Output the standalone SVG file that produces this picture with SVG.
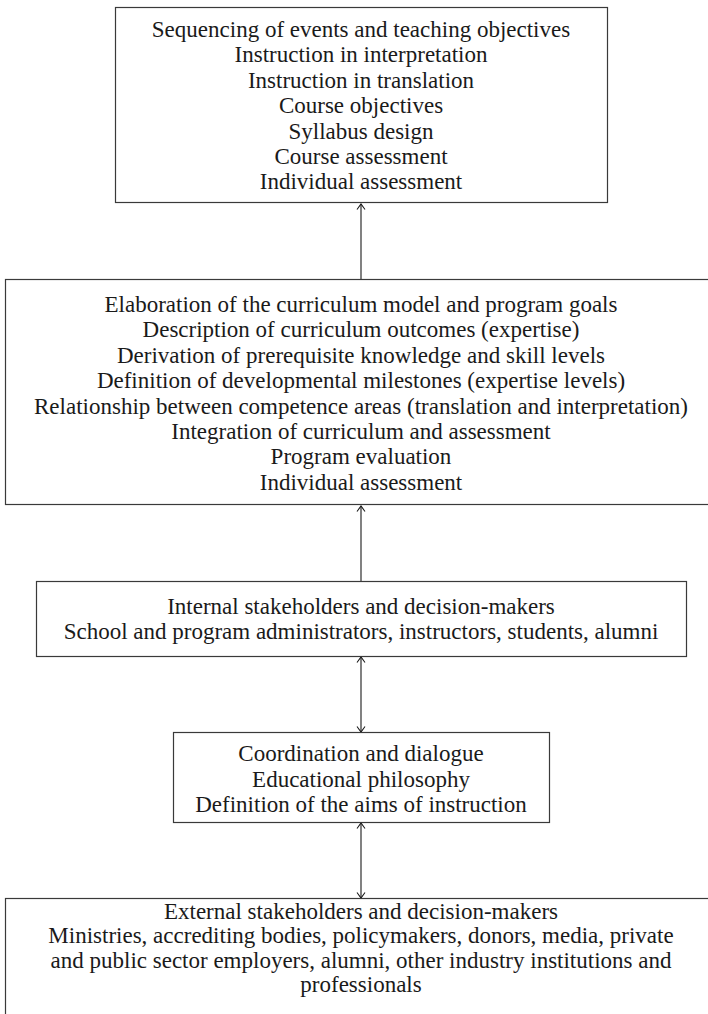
<svg xmlns="http://www.w3.org/2000/svg" width="708" height="1014" viewBox="0 0 708 1014">
<style>
.box{fill:#fff;stroke:#3a3a3a;stroke-width:1.2}
.t{font-family:"Liberation Serif","Times New Roman",serif;font-size:23px;fill:#1a1a1a;text-anchor:middle}
.c{stroke:#1a1a1a;stroke-width:1.1;fill:none}
</style>
<defs>
<marker id="ah" viewBox="-7 -6 8 12" refX="0" refY="0" markerWidth="8" markerHeight="12" markerUnits="userSpaceOnUse" orient="auto-start-reverse">
<path d="M-5.5,-4 L0,0 L-5.5,4" fill="none" stroke="#1a1a1a" stroke-width="1.1"/>
</marker>
</defs>
<rect width="708" height="1014" fill="#fff"/>
<g id="connectors">
<line class="c" x1="361" y1="279" x2="361" y2="204" marker-end="url(#ah)"/>
<line class="c" x1="361" y1="581" x2="361" y2="506" marker-end="url(#ah)"/>
<line class="c" x1="361" y1="657" x2="361" y2="732" marker-start="url(#ah)" marker-end="url(#ah)"/>
<line class="c" x1="361" y1="823" x2="361" y2="898" marker-start="url(#ah)" marker-end="url(#ah)"/>
</g>
<g id="node-teaching">
<rect class="box" x="115.5" y="7.5" width="492" height="195"/>
<text class="t" x="361" y="37">Sequencing of events and teaching objectives</text>
<text class="t" x="361" y="62.4">Instruction in interpretation</text>
<text class="t" x="361" y="87.8">Instruction in translation</text>
<text class="t" x="361" y="113.2">Course objectives</text>
<text class="t" x="361" y="138.6">Syllabus design</text>
<text class="t" x="361" y="164">Course assessment</text>
<text class="t" x="361" y="189.4">Individual assessment</text>
</g>
<g id="node-curriculum">
<rect class="box" x="5.5" y="279.5" width="710" height="225"/>
<text class="t" x="361" y="312">Elaboration of the curriculum model and program goals</text>
<text class="t" x="361" y="337.4">Description of curriculum outcomes (expertise)</text>
<text class="t" x="361" y="362.8">Derivation of prerequisite knowledge and skill levels</text>
<text class="t" x="361" y="388.2">Definition of developmental milestones (expertise levels)</text>
<text class="t" x="361" y="413.6">Relationship between competence areas (translation and interpretation)</text>
<text class="t" x="361" y="439">Integration of curriculum and assessment</text>
<text class="t" x="361" y="464.4">Program evaluation</text>
<text class="t" x="361" y="489.8">Individual assessment</text>
</g>
<g id="node-internal">
<rect class="box" x="36.5" y="581.5" width="650" height="75"/>
<text class="t" x="361" y="614">Internal stakeholders and decision-makers</text>
<text class="t" x="361" y="639.4">School and program administrators, instructors, students, alumni</text>
</g>
<g id="node-coordination">
<rect class="box" x="173.5" y="732.5" width="376" height="90"/>
<text class="t" x="361" y="761">Coordination and dialogue</text>
<text class="t" x="361" y="786.5">Educational philosophy</text>
<text class="t" x="361" y="812">Definition of the aims of instruction</text>
</g>
<g id="node-external">
<rect class="box" x="5.5" y="898.5" width="710" height="130"/>
<text class="t" x="361" y="918.5">External stakeholders and decision-makers</text>
<text class="t" x="361" y="943">Ministries, accrediting bodies, policymakers, donors, media, private</text>
<text class="t" x="361" y="967.5">and public sector employers, alumni, other industry institutions and</text>
<text class="t" x="361" y="992">professionals</text>
</g>
</svg>
